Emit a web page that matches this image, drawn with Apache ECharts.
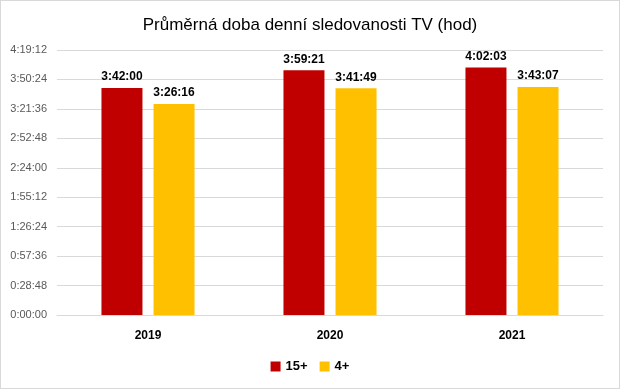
<!DOCTYPE html>
<html><head><meta charset="utf-8">
<script src="https://cdn.jsdelivr.net/npm/echarts@6/dist/echarts.min.js"></script>
<style>html,body{margin:0;padding:0;background:#fff}#c{width:620px;height:389px;box-sizing:border-box;border:1px solid #d9d9d9}</style>
</head><body><div id="c"></div>
<script>
const categories = ['2019', '2020', '2021'];
const seriesNames = ['15+', '4+'];
const values15 = ['3:42:00', '3:59:21', '4:02:03'];
const values4 = ['3:26:16', '3:41:49', '3:43:07'];
const tickStep = '0:28:48';
const tickMax = '4:19:12';

function toSec(s){const p=s.split(':').map(Number);return p[0]*3600+p[1]*60+p[2];}
function fmt(v){v=Math.round(v);const h=Math.floor(v/3600),m=Math.floor(v%3600/60),s=v%60;return h+':'+String(m).padStart(2,'0')+':'+String(s).padStart(2,'0');}

const font = '"Liberation Sans", Arial, sans-serif';
const chart = echarts.init(document.getElementById('c'));
const lbl = {show:true, position:'top', distance:5, formatter:p=>fmt(p.value), fontWeight:'bold', fontSize:12, color:'#000', fontFamily:font};
chart.setOption({
  animation:false,
  title:{text:'Průměrná doba denní sledovanosti TV (hod)', left:'center', top:11, textStyle:{fontSize:17, fontWeight:'normal', color:'#000', fontFamily:font}},
  legend:{bottom:10, itemWidth:10, itemHeight:10, itemGap:12, icon:'rect', textStyle:{fontSize:13, fontWeight:'bold', color:'#000', fontFamily:font}},
  grid:{left:56, right:16, top:49, bottom:73},
  xAxis:{type:'category', data:categories, axisTick:{show:false}, axisLine:{lineStyle:{color:'#d9d9d9'}},
    axisLabel:{fontWeight:'bold', fontSize:12, color:'#000', margin:15, fontFamily:font}},
  yAxis:{type:'value', min:0, max:toSec(tickMax), interval:toSec(tickStep),
    axisLabel:{formatter:v=>fmt(v), fontSize:11, color:'#595959', margin:10, fontFamily:font},
    splitLine:{lineStyle:{color:'#d9d9d9'}}, axisLine:{show:false}, axisTick:{show:false}},
  series:[
    {name:seriesNames[0], type:'bar', data:values15.map(toSec), barWidth:41, barGap:'27%', itemStyle:{color:'#C00000'}, label:lbl},
    {name:seriesNames[1], type:'bar', data:values4.map(toSec), barWidth:41, itemStyle:{color:'#FFC000'}, label:lbl}
  ]
});
</script></body></html>
